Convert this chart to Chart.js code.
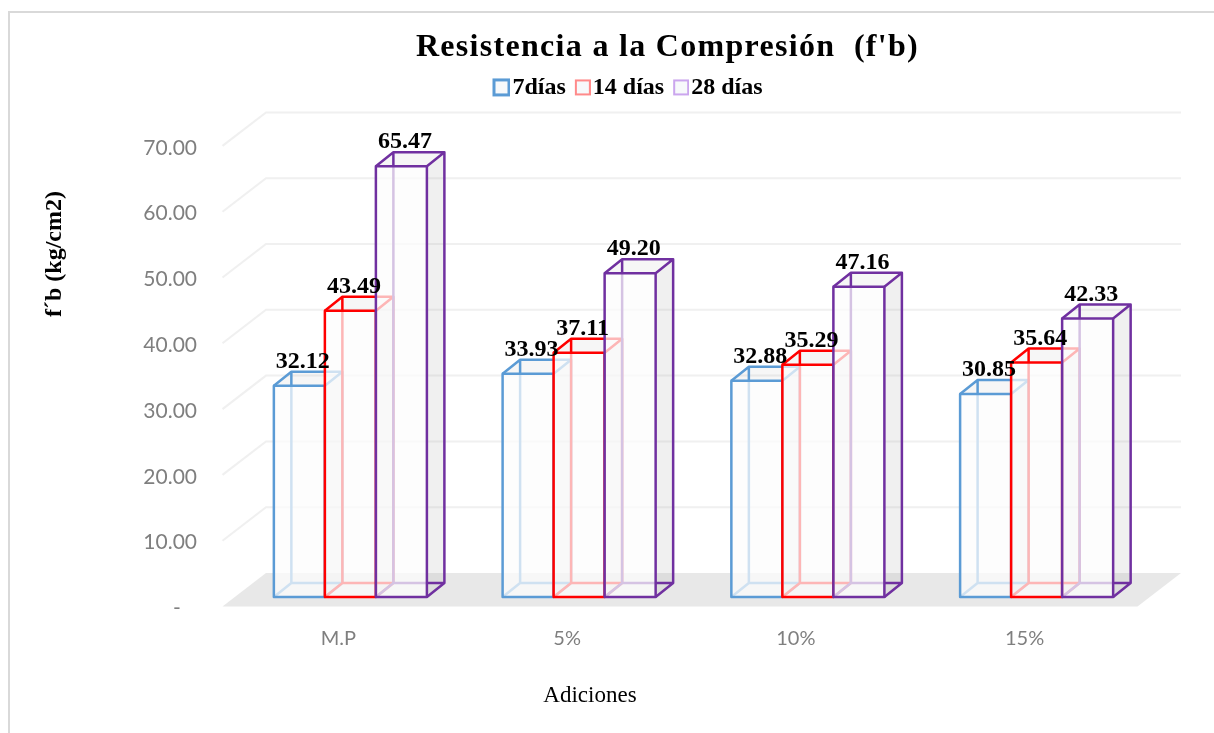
<!DOCTYPE html>
<html>
<head>
<meta charset="utf-8">
<style>
  html, body { margin: 0; background: #fff; }
  canvas { display: block; }
</style>
<script src="https://cdn.jsdelivr.net/npm/chart.js@4"></script>
</head>
<body>
<canvas id="myChart" width="1214" height="733"></canvas>
<script>
// datos
const categories = ['M.P', '5%', '10%', '15%'];
const seriesNames = ['7días', '14 días', '28 días'];
const dias7 = [32.12, 33.93, 32.88, 30.85];
const dias14 = [43.49, 37.11, 35.29, 35.64];
const dias28 = [65.47, 49.20, 47.16, 42.33];
const yTicks = [0, 10, 20, 30, 40, 50, 60, 70];

const serif = '"Liberation Serif", serif';
const colors = ['#5b9bd5', '#ff0000', '#7030a0'];
const legendColors = ['#5b9bd5', '#ff8a8a', '#cba6ee'];

// profundidad de las barras y del piso (efecto 3D de Excel)
const barDepth = { x: 17.5, y: -14 };
const wallBack = { x: 30, y: -24 };
const wallFront = { x: -13.5, y: 9.5 };

// cuadrito de la leyenda, pegado al texto como en Excel
function swatch(color, size, lw) {
    const c = document.createElement('canvas');
    c.width = 24; c.height = 24;
    const g = c.getContext('2d');
    const x = 24 - size;
    const y = (24 - size) / 2;
    g.fillStyle = '#f7f9fb';
    g.fillRect(x, y, size, size);
    g.strokeStyle = color;
    g.lineWidth = lw;
    g.strokeRect(x + lw / 2, y + lw / 2, size - lw, size - lw);
    return c;
}
const swatches = [swatch(legendColors[0], 18, 3), swatch(legendColors[1], 16, 2), swatch(legendColors[2], 16, 2)];

// piso y lineas de la pared del fondo
const wallPlugin = {
    id: 'wall',
    beforeDatasetsDraw(chart) {
        const { ctx, scales: { y }, chartArea: { left, right } } = chart;
        const y0 = y.getPixelForValue(0);
        ctx.save();
        ctx.fillStyle = '#e8e8e8';
        ctx.beginPath();
        ctx.moveTo(left + wallFront.x, y0 + wallFront.y);
        ctx.lineTo(right + wallFront.x, y0 + wallFront.y);
        ctx.lineTo(right + wallBack.x, y0 + wallBack.y);
        ctx.lineTo(left + wallBack.x, y0 + wallBack.y);
        ctx.closePath();
        ctx.fill();
        ctx.strokeStyle = '#f0f0f0';
        ctx.lineWidth = 2;
        yTicks.forEach(v => {
            if (v === 0) return;
            const py = y.getPixelForValue(v);
            ctx.beginPath();
            ctx.moveTo(left + wallFront.x, py + wallFront.y);
            ctx.lineTo(left + wallBack.x, py + wallBack.y);
            ctx.lineTo(right + wallBack.x, py + wallBack.y);
            ctx.stroke();
        });
        ctx.restore();
    }
};

function drawBox(ctx, bar) {
    const l = bar.x - bar.width / 2;
    const r = bar.x + bar.width / 2;
    const t = bar.y;
    const b = bar.base;
    const dx = barDepth.x;
    const dy = barDepth.y;
    // cara lateral
    ctx.fillStyle = 'rgba(170,170,170,0.18)';
    ctx.beginPath();
    ctx.moveTo(r, t); ctx.lineTo(r + dx, t + dy); ctx.lineTo(r + dx, b + dy); ctx.lineTo(r, b);
    ctx.closePath();
    ctx.fill();
    // cara superior
    ctx.fillStyle = 'rgba(170,170,170,0.1)';
    ctx.beginPath();
    ctx.moveTo(l, t); ctx.lineTo(l + dx, t + dy); ctx.lineTo(r + dx, t + dy); ctx.lineTo(r, t);
    ctx.closePath();
    ctx.fill();
    // aristas de atras
    ctx.beginPath();
    ctx.moveTo(l, t); ctx.lineTo(l + dx, t + dy); ctx.lineTo(r + dx, t + dy);
    ctx.lineTo(r + dx, b + dy); ctx.lineTo(r, b);
    ctx.moveTo(r, t); ctx.lineTo(r + dx, t + dy);
    ctx.moveTo(l + dx, t + dy); ctx.lineTo(l + dx, b + dy); ctx.lineTo(r + dx, b + dy);
    ctx.moveTo(l, b); ctx.lineTo(l + dx, b + dy);
    ctx.stroke();
}

// las series se pintan de la primera a la ultima, cada una tapa a la anterior
const depthPlugin = {
    id: 'depth',
    beforeDatasetDraw() {
        return false;
    },
    beforeDatasetsDraw(chart) {
        const { ctx } = chart;
        chart.data.datasets.forEach((ds, i) => {
            const meta = chart.getDatasetMeta(i);
            ctx.save();
            ctx.lineWidth = 2.5;
            ctx.lineJoin = 'round';
            ctx.strokeStyle = colors[i];
            meta.data.forEach(bar => drawBox(ctx, bar));
            meta.controller.draw();
            meta.data.forEach(bar => {
                ctx.strokeRect(bar.x - bar.width / 2, bar.y, bar.width, bar.base - bar.y);
            });
            ctx.restore();
        });
    },
    afterDatasetsDraw(chart) {
        const { ctx } = chart;
        ctx.save();
        ctx.fillStyle = '#000';
        ctx.font = 'bold 24px ' + serif;
        ctx.textAlign = 'center';
        ctx.textBaseline = 'middle';
        chart.data.datasets.forEach((ds, i) => {
            chart.getDatasetMeta(i).data.forEach((bar, j) => {
                ctx.fillText(ds.data[j].toFixed(2), bar.x + 3.5, bar.y - 24);
            });
        });
        // titulos de los ejes
        ctx.font = '23px ' + serif;
        ctx.fillText('Adiciones', 590, 696);
        ctx.translate(55, 254);
        ctx.rotate(-Math.PI / 2);
        ctx.font = 'bold 24px ' + serif;
        ctx.fillText('f´b (kg/cm2)', 0, 0);
        ctx.restore();
    }
};

// marco del grafico, titulo y leyenda corridos como en el original
const framePlugin = {
    id: 'frame',
    afterLayout(chart) {
        const title = chart.titleBlock;
        const legend = chart.legend;
        title.left += 72; title.right += 72;
        title.top -= 20; title.bottom -= 20;
        legend.left += 34; legend.right += 34;
        legend.top -= 27; legend.bottom -= 27;
    },
    beforeDraw(chart) {
        const { ctx } = chart;
        if (!chart.titleBlock._wrapped) {
            const titleDraw = chart.titleBlock.draw;
            chart.titleBlock.draw = function () {
                ctx.letterSpacing = '1.3px';
                titleDraw.call(this);
                ctx.letterSpacing = '0px';
            };
            chart.titleBlock._wrapped = true;
        }
        ctx.save();
        ctx.fillStyle = '#fff';
        ctx.fillRect(0, 0, chart.width, chart.height);
        ctx.strokeStyle = '#d9d9d9';
        ctx.lineWidth = 2;
        ctx.beginPath();
        ctx.moveTo(9, 733);
        ctx.lineTo(9, 12);
        ctx.lineTo(1214, 12);
        ctx.stroke();
        ctx.restore();
    }
};

const config = {
    type: 'bar',
    data: {
        labels: categories,
        datasets: [dias7, dias14, dias28].map((values, i) => ({
            label: seriesNames[i],
            data: values,
            backgroundColor: 'rgba(252,252,252,0.72)',
            borderWidth: 0,
            categoryPercentage: 0.669,
            barPercentage: 1
        }))
    },
    options: {
        responsive: false,
        animation: false,
        layout: { padding: { left: 40, right: 63, top: 49, bottom: 0 } },
        scales: {
            x: {
                grid: { display: false, drawTicks: false },
                border: { display: false },
                ticks: {
                    color: '#7f7f7f',
                    font: { family: 'Lato', size: 20 },
                    labelOffset: -12,
                    padding: 30,
                    maxRotation: 0
                },
                afterFit(scale) { scale.height = 733 - 597; }
            },
            y: {
                min: 0,
                max: 70,
                grid: { display: false, drawTicks: false },
                border: { display: false },
                afterBuildTicks(scale) { scale.ticks = yTicks.map(v => ({ value: v })); },
                ticks: {
                    color: '#7f7f7f',
                    font: { family: 'Lato', size: 21 },
                    labelOffset: 11.5,
                    padding: 39,
                    callback: v => v === 0 ? '-   ' : v.toFixed(2)
                },
                afterFit(scale) { scale.width = 196; }
            }
        },
        plugins: {
            title: {
                display: true,
                text: "Resistencia a la Compresión  (f'b)",
                color: '#000',
                font: { family: serif, size: 32, weight: 'bold' },
                padding: { top: 0, bottom: 4 }
            },
            legend: {
                position: 'top',
                labels: {
                    color: '#000',
                    font: { family: serif, size: 24, weight: 'bold' },
                    usePointStyle: true,
                    boxWidth: 4,
                    boxHeight: 18,
                    padding: 11,
                    generateLabels(chart) {
                        return seriesNames.map((name, i) => ({
                            text: name,
                            pointStyle: swatches[i],
                            datasetIndex: i,
                            lineWidth: 0
                        }));
                    }
                }
            },
            tooltip: { enabled: false }
        }
    },
    plugins: [framePlugin, wallPlugin, depthPlugin]
};

const myChart = new Chart(document.getElementById('myChart').getContext('2d'), config);
</script>
</body>
</html>
